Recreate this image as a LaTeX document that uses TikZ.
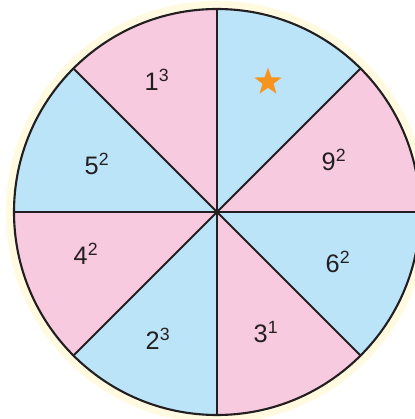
\documentclass[tikz,border=0pt]{standalone}
\usepackage{fontspec}
\setmainfont{Liberation Sans}
\usetikzlibrary{shapes.geometric}
\definecolor{wheelblue}{RGB}{187,228,248}
\definecolor{wheelpink}{RGB}{248,202,223}
\definecolor{wheelglow}{RGB}{255,250,224}
\definecolor{starorange}{RGB}{247,148,30}
\definecolor{linedark}{RGB}{35,31,32}
\tikzset{
  spoke/.style={draw=linedark, line width=1.4pt, line cap=round},
  rim/.style={draw=linedark, line width=1.5pt},
  numlabel/.style={font=\fontsize{18}{20}\selectfont, text=linedark, inner sep=0pt},
  starmark/.style={star, star points=5, star point ratio=2.5, fill=starorange,
    draw=none, minimum size=0.72cm, inner sep=0pt}
}

\begin{document}
\begin{tikzpicture}
  \clip (0,0) rectangle (10.375,10.475);
  \coordinate (O) at (5.425,5.175);

  % Outer glow
  \fill[wheelglow] (O) circle (5.28);

  % Coloured sectors
  \foreach \a/\c in {0/wheelpink, 45/wheelblue, 90/wheelpink, 135/wheelblue,
                     180/wheelpink, 225/wheelblue, 270/wheelpink, 315/wheelblue}
    \fill[\c] (O) -- ++(\a:5.075) arc[start angle=\a, end angle=\a+45, radius=5.075] -- cycle;

  % Spokes and rim
  \foreach \a in {0,45,...,315}
    \draw[spoke] (O) -- ++(\a:5.075);
  \draw[rim] (O) circle (5.075);
  \fill[linedark] (O) circle (0.05);

  % Labels
  \node[starmark] (star) at (6.7,8.425) {};
  \node[numlabel] (onecube) at (3.925,8.475) {1\textsuperscript{3}};
  \node[numlabel] (ninesq) at (8.35,6.475) {9\textsuperscript{2}};
  \node[numlabel] (fivesq) at (2.425,6.375) {5\textsuperscript{2}};
  \node[numlabel] (foursq) at (2.15,4.125) {4\textsuperscript{2}};
  \node[numlabel] (sixsq) at (8.45,3.925) {6\textsuperscript{2}};
  \node[numlabel] (twocube) at (3.95,2.0) {2\textsuperscript{3}};
  \node[numlabel] (threeone) at (6.65,2.175) {3\textsuperscript{1}};
\end{tikzpicture}
\end{document}
